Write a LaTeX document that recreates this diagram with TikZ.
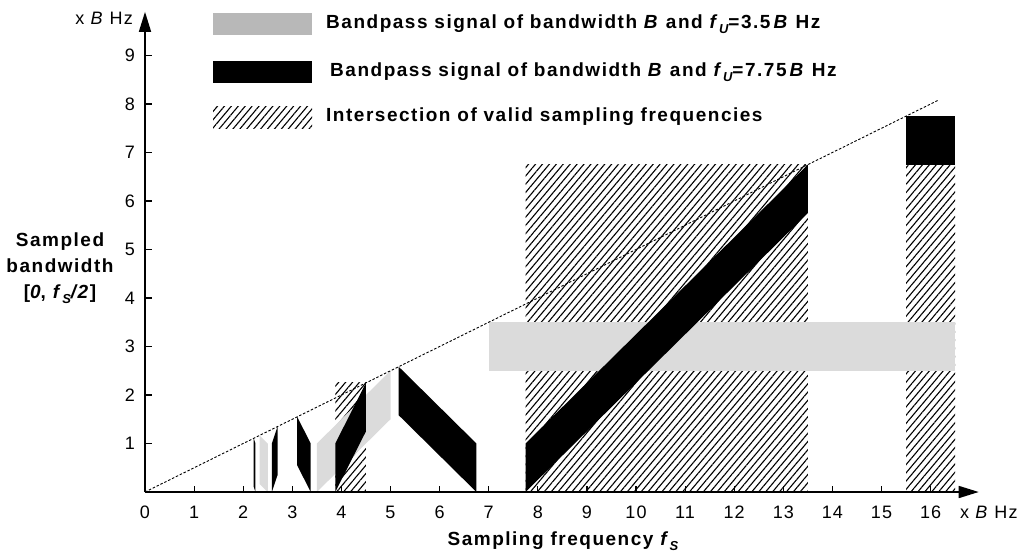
\documentclass[tikz,border=0pt]{standalone}
\usepackage{fontspec}
\setmainfont{Liberation Sans}[LetterSpace=6]
\newfontfamily\legfont{Liberation Sans}[LetterSpace=8]
\usetikzlibrary{arrows.meta,patterns.meta}
\newcommand\subit[1]{\raisebox{-0.45ex}{\fontsize{13}{13}\selectfont\itshape #1}}
\begin{document}
\begin{tikzpicture}[x=1pt,y=-1pt,
  lbl/.style={font=\fontsize{18}{21}\selectfont, inner sep=0pt},
  bl/.style={font=\legfont\fontsize{19}{22}\selectfont\bfseries, inner sep=0pt},
  hatch/.style={pattern={Lines[angle=50,distance=5.3pt,line width=1.1pt]}},
  greyfill/.style={fill=black!14},
  legendgrey/.style={fill=black!28},
  blackfill/.style={fill=black},
  axisline/.style={line width=1.6pt, -{Triangle[length=20pt,width=12pt]}},
  tickmark/.style={line width=1.2pt},
  fsline/.style={line width=0.9pt, dash pattern=on 2.5pt off 1.8pt}]
\useasboundingbox (0,0) rectangle (1020,555);

% legend
\fill[legendgrey] (213,13) rectangle (312,35);
\fill[blackfill] (213,61) rectangle (312,83);
\fill[hatch] (213,106) rectangle (312,128);
\node[bl, anchor=west] (leg1) at (326,24) {Bandpass signal of bandwidth \textit{B} and \textit{f}\subit{U}=3.5\,\textit{B} Hz};
\node[bl, anchor=west] (leg2) at (330,72) {Bandpass signal of bandwidth \textit{B} and \textit{f}\subit{U}=7.75\,\textit{B} Hz};
\node[bl, anchor=west] (leg3) at (326,117) {Intersection of valid sampling frequencies};

% left and bottom labels
\node[bl, align=center] (ylab) at (60,268) {Sampled\\[4pt]bandwidth\\[4pt][\textit{0}, \textit{f}\subit{S}\textit{/2}]};
\node[bl] (xlab) at (563,541) {Sampling frequency \textit{f}\subit{S}};
\node[lbl, anchor=east] (yunit) at (133,18) {x \textit{B} Hz};
\node[lbl, anchor=west] (xunit) at (960,512) {x \textit{B} Hz};

\begin{scope}[shift={(145,492)}, x=49.1pt, y=48.5pt]
  % hatched intersections
  \fill[hatch] (3.875,0) rectangle (4.5,2.25);
  \fill[hatch] (7.75,0) rectangle (13.5,6.75);
  \fill[hatch] (15.5,0) rectangle (16.5,6.75);
  % grey: f_U = 3.5B
  \fill[greyfill] (7,2.5) rectangle (16.5,3.5);
  \fill[greyfill] (3.5,0) -- (5,1.5) -- (5,2.5) -- (3.5,1) -- cycle;
  \fill[greyfill] (2.3333,0.1667) -- (2.5,0) -- (2.5,1) -- (2.3333,1.1667) -- cycle;
  % black: f_U = 7.75B
  \fill[blackfill] (15.5,6.75) rectangle (16.5,7.75);
  \fill[blackfill] (7.75,0) -- (13.5,5.75) -- (13.5,6.75) -- (7.75,1) -- cycle;
  \fill[blackfill] (5.1667,1.5833) -- (6.75,0) -- (6.75,1) -- (5.1667,2.5833) -- cycle;
  \fill[blackfill] (3.875,0) -- (4.5,1.25) -- (4.5,2.25) -- (3.875,1) -- cycle;
  \fill[blackfill] (3.1,0.55) -- (3.375,0) -- (3.375,1) -- (3.1,1.55) -- cycle;
  \fill[blackfill] (2.5833,0) -- (2.7,0.35) -- (2.7,1.35) -- (2.5833,1) -- cycle;
  \fill[blackfill] (2.2143,0.1071) -- (2.25,0) -- (2.25,1) -- (2.2143,1.1071) -- cycle;
  % fs/2 line
  \coordinate (O) at (0,0);
  \coordinate (fsend) at (16.15,8.075);
  \draw[fsline] (O) -- (fsend);
  % axes
  \coordinate (xend) at (16.98,0);
  \coordinate (yend) at (0,9.9);
  \draw[axisline] (O) -- (xend);
  \draw[axisline] (O) -- (yend);
  \foreach \i in {1,...,16} \draw[tickmark] (\i,0) -- ++(0,0.13);
  \foreach \i in {1,...,9} \draw[tickmark] (0,\i) -- ++(0.15,0);
  \foreach \i in {0,...,16} \node[lbl] (xl\i) at (\i,-0.42) {\i};
  \foreach \i in {1,...,9} \node[lbl, anchor=east] (yl\i) at (-0.2,\i) {\i};
\end{scope}
\end{tikzpicture}
\end{document}
